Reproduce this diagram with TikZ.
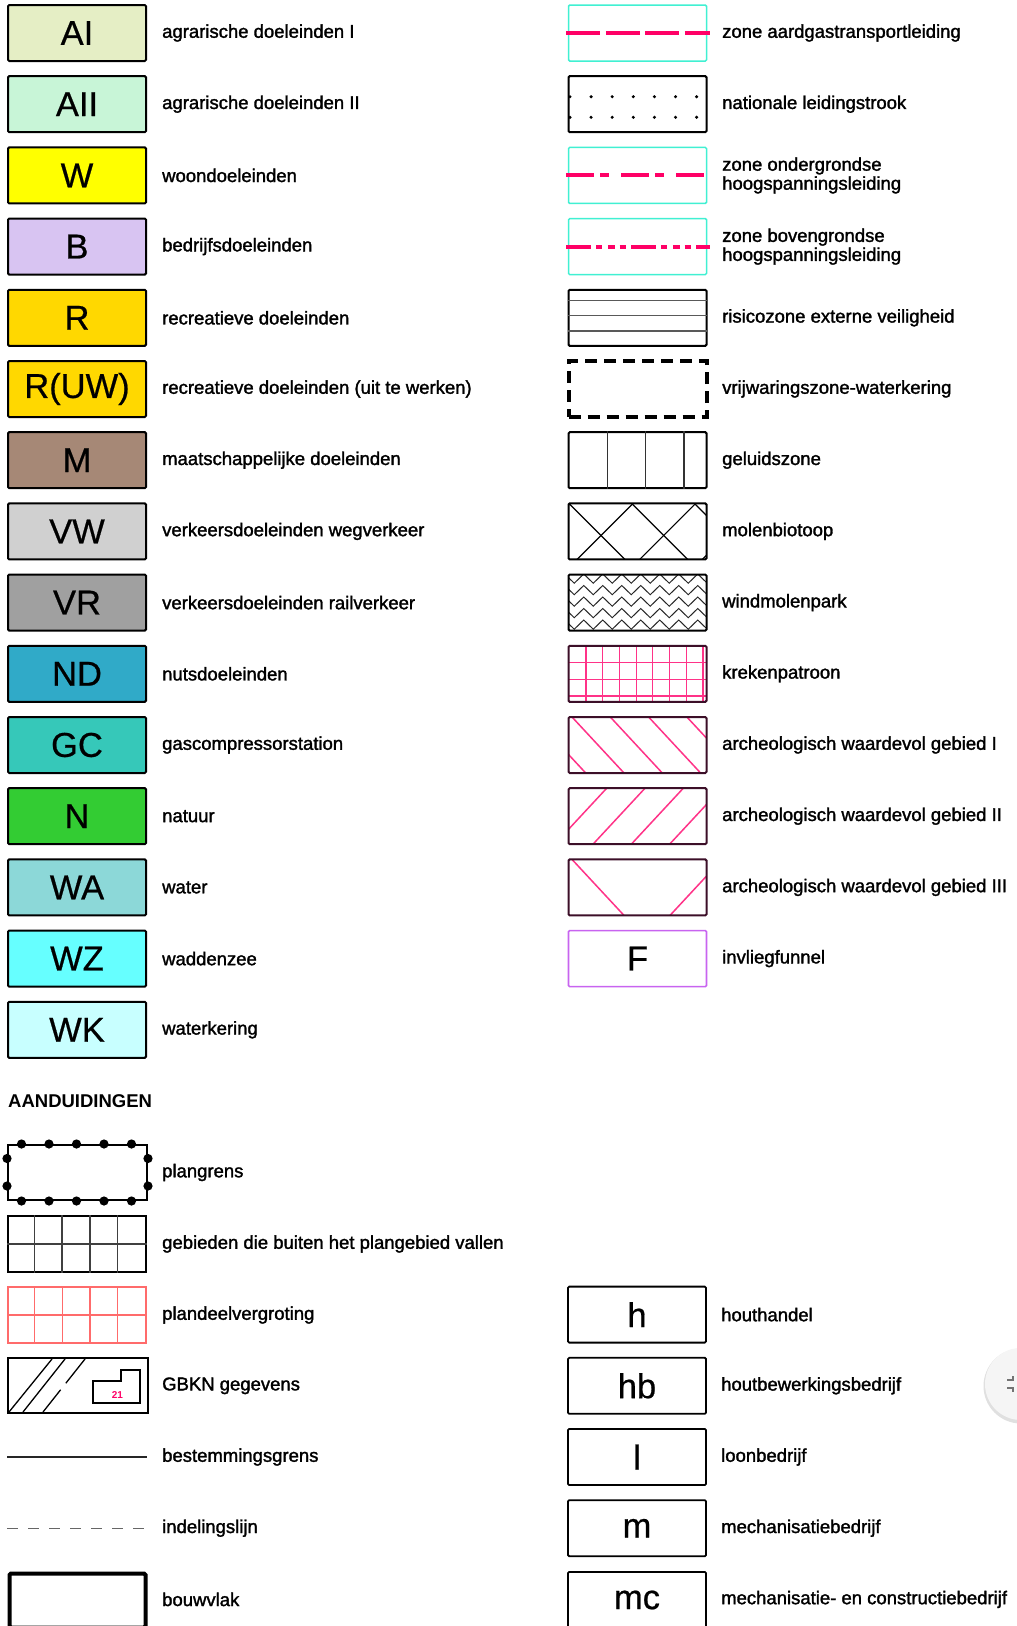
\documentclass[tikz,border=0pt]{standalone}
\usepackage{fontspec}
\setmainfont{Liberation Sans}
\newfontfamily\labfont{Liberation Sans}[FakeBold=1.6]
\newfontfamily\letfont{Liberation Sans}[FakeBold=0.6]
\usetikzlibrary{decorations.pathmorphing}
\definecolor{cAI}{HTML}{E5EEC5}
\definecolor{cAII}{HTML}{C8F5D7}
\definecolor{cW}{HTML}{FFFF00}
\definecolor{cB}{HTML}{D8C4F2}
\definecolor{cR}{HTML}{FFD800}
\definecolor{cM}{HTML}{A68876}
\definecolor{cVW}{HTML}{D0D0D0}
\definecolor{cVR}{HTML}{A0A0A0}
\definecolor{cND}{HTML}{30AAC8}
\definecolor{cGC}{HTML}{36C8B9}
\definecolor{cN}{HTML}{33CC33}
\definecolor{cWA}{HTML}{8CD8D8}
\definecolor{cWZ}{HTML}{66FFFF}
\definecolor{cWK}{HTML}{C8FFFF}
\definecolor{cyz}{HTML}{40F0D2}
\definecolor{pinkl}{HTML}{FF0066}
\definecolor{pinka}{HTML}{FF3388}
\definecolor{maroon}{HTML}{3C0F28}
\definecolor{purp}{HTML}{C864F0}
\definecolor{redg}{HTML}{FF6B6B}
\begin{document}
\begin{tikzpicture}[x=1pt,y=-1pt,
  zb/.style={draw=black, line width=2pt, minimum width=138pt, minimum height=56pt,
    inner sep=0pt, rounded corners=1.2pt, font=\letfont\fontsize{34.5}{34.5}\selectfont},
  lb/.style={anchor=west, inner sep=0pt, font=\labfont\fontsize{18.5}{19}\selectfont, align=left},
  pline/.style={line width=4pt, draw=pinkl},
  hatch/.style={line width=1.5pt, draw=pinka},
  thin/.style={line width=1.2pt, draw=black!80}]
\useasboundingbox (0,0) rectangle (1017,1626);
\fill[white] (0,0) rectangle (1017,1626);

% ---------------- left column: bestemmingen
\node[zb, fill=cAI]  (bAI)  at (77,33)     {AI};
\node[lb] (tAI)  at (162,33)    {agrarische doeleinden I};
\node[zb, fill=cAII] (bAII) at (77,104.2)  {AII};
\node[lb] (tAII) at (162,104.2) {agrarische doeleinden II};
\node[zb, fill=cW]   (bW)   at (77,175.4)  {W};
\node[lb] (tW)   at (162,175.4) {woondoeleinden};
\node[zb, fill=cB]   (bB)   at (77,246.6)  {B};
\node[lb] (tB)   at (162,246.6) {bedrijfsdoeleinden};
\node[zb, fill=cR]   (bR)   at (77,317.8)  {R};
\node[lb] (tR)   at (162,317.8) {recreatieve doeleinden};
\node[zb, fill=cR]   (bRUW) at (77,389)    {R(UW)};
\node[lb] (tRUW) at (162,389)   {recreatieve doeleinden (uit te werken)};
\node[zb, fill=cM]   (bM)   at (77,460.2)  {M};
\node[lb] (tM)   at (162,460.2) {maatschappelijke doeleinden};
\node[zb, fill=cVW]  (bVW)  at (77,531.4)  {VW};
\node[lb] (tVW)  at (162,531.4) {verkeersdoeleinden wegverkeer};
\node[zb, fill=cVR]  (bVR)  at (77,602.6)  {VR};
\node[lb] (tVR)  at (162,602.6) {verkeersdoeleinden railverkeer};
\node[zb, fill=cND]  (bND)  at (77,673.8)  {ND};
\node[lb] (tND)  at (162,673.8) {nutsdoeleinden};
\node[zb, fill=cGC]  (bGC)  at (77,745)    {GC};
\node[lb] (tGC)  at (162,745)   {gascompressorstation};
\node[zb, fill=cN]   (bN)   at (77,816.2)  {N};
\node[lb] (tN)   at (162,816.2) {natuur};
\node[zb, fill=cWA]  (bWA)  at (77,887.4)  {WA};
\node[lb] (tWA)  at (162,887.4) {water};
\node[zb, fill=cWZ]  (bWZ)  at (77,958.6)  {WZ};
\node[lb] (tWZ)  at (162,958.6) {waddenzee};
\node[zb, fill=cWK]  (bWK)  at (77,1029.8) {WK};
\node[lb] (tWK)  at (162,1029.8){waterkering};

% ---------------- right column: zones
% row 0
\node[zb, draw=cyz, line width=1.5pt] (bgas) at (637.5,33) {};
\draw[pline, dash pattern=on 34pt off 5.5pt] ([xshift=-1.5pt]bgas.west) -- ([xshift=2.5pt]bgas.east);
\node[lb] (tgas) at (722,33) {zone aardgastransportleiding};
% row 1
\node[zb] (bnat) at (637.5,104.2) {};
\foreach \k in {0,...,6}{
  \fill ([shift={(2.5+21.1*\k,-7.5)}]bnat.west) circle (1.7);
  \fill ([shift={(2.5+21.1*\k,13.1)}]bnat.west) circle (1.7);
}
\node[lb] (tnat) at (722,104.2) {nationale leidingstrook};
% row 2
\node[zb, draw=cyz, line width=1.5pt] (bond) at (637.5,175.4) {};
\draw[pline, dash pattern=on 28pt off 6pt on 9pt off 12pt] ([xshift=-1.5pt]bond.west) -- ([xshift=1pt]bond.east);
\node[lb] (tond) at (722,175.4) {zone ondergrondse\\hoogspanningsleiding};
% row 3
\node[zb, draw=cyz, line width=1.5pt] (bbov) at (637.5,246.6) {};
\draw[pline, dash pattern=on 25pt off 5pt on 6pt off 5.7pt on 6.7pt off 5pt on 6.7pt off 4.9pt] ([xshift=-1.5pt]bbov.west) -- ([xshift=2.5pt]bbov.east);
\node[lb] (tbov) at (722,246.6) {zone bovengrondse\\hoogspanningsleiding};
% row 4
\node[zb] (brisk) at (637.5,317.8) {};
\foreach \dy in {-13.1,2.2,17.2}
  \draw[thin, draw=black!65] ([yshift=\dy]brisk.west) -- ([yshift=\dy]brisk.east);
\node[lb] (trisk) at (722,317.8) {risicozone externe veiligheid};
% row 5
\node[zb, line width=4pt, rounded corners=0pt, dash pattern=on 12pt off 7pt] (bvrij) at (637.5,389) {};
\node[lb] (tvrij) at (722,389) {vrijwaringszone-waterkering};
% row 6
\node[zb] (bgel) at (637.5,460.2) {};
\foreach \dx in {39.8,78.2,116.5}
  \draw[thin] ([xshift=\dx]bgel.north west) -- ([xshift=\dx]bgel.south west);
\node[lb] (tgel) at (722,460.2) {geluidszone};
% row 7
\begin{scope}
  \clip (568.5,503.4) rectangle (706.5,559.4);
  \foreach \x in {506.3,569,631.7,694.4} \draw[thin, draw=black] (\x,503.4) -- ++(56,56);
  \foreach \x in {514.3,577,639.7,702.4} \draw[thin, draw=black] (\x,559.4) -- ++(56,-56);
\end{scope}
\node[zb] (bmol) at (637.5,531.4) {};
\node[lb] (tmol) at (722,531.4) {molenbiotoop};
% row 8
\begin{scope}
  \clip (568.5,574.6) rectangle (706.5,630.6);
  \foreach \y in {578.6,590.1,601.6,613.1,624.6}
    \draw[line width=1pt, draw=black!85, decorate, decoration={zigzag, segment length=19pt, amplitude=4.6pt}] (560,\y) -- (720,\y);
\end{scope}
\node[zb] (bwind) at (637.5,602.6) {};
\node[lb] (twind) at (722,602.6) {windmolenpark};
% row 9
\begin{scope}
  \clip (568.5,645.8) rectangle (706.5,701.8);
  \foreach \k in {0,...,7} \draw[hatch, line width=1.2pt] (586+16.7*\k,645) -- (586+16.7*\k,703);
  \foreach \y in {662.6,679.3,696} \draw[hatch, line width=1.2pt] (567,\y) -- (708,\y);
\end{scope}
\node[zb, draw=maroon] (bkrek) at (637.5,673.8) {};
\node[lb] (tkrek) at (722,673.8) {krekenpatroon};
% row 10
\begin{scope}
  \clip (568.5,717) rectangle (706.5,773);
  \foreach \k in {-2,...,4} \draw[hatch] (572+38.3*\k,717) -- ++(52,56);
\end{scope}
\node[zb, draw=maroon] (barI) at (637.5,745) {};
\node[lb] (tarI) at (722,745) {archeologisch waardevol gebied I};
% row 11
\begin{scope}
  \clip (568.5,788.2) rectangle (706.5,844.2);
  \foreach \k in {-2,...,3} \draw[hatch] (593+38.3*\k,844.2) -- ++(52,-56);
\end{scope}
\node[zb, draw=maroon] (barII) at (637.5,816.2) {};
\node[lb] (tarII) at (722,816.2) {archeologisch waardevol gebied II};
% row 12
\begin{scope}
  \clip (568.5,859.4) rectangle (706.5,915.4);
  \draw[hatch] (572,859.4) -- ++(52,56);
  \draw[hatch] (670,915.4) -- ++(52,-56);
\end{scope}
\node[zb, draw=maroon] (barIII) at (637.5,887.4) {};
\node[lb] (tarIII) at (722,887.4) {archeologisch waardevol gebied III};
% row 13
\node[zb, draw=purp, line width=1.6pt] (bF) at (637.5,958.6) {F};
\node[lb] (tF) at (722,958.6) {invliegfunnel};

% ---------------- aanduidingen
\node[anchor=west, inner sep=0pt, font=\bfseries\fontsize{18.5}{19}\selectfont] (head) at (8,1101.5) {AANDUIDINGEN};
% plangrens
\node[draw, line width=2pt, minimum width=139pt, minimum height=55pt, inner sep=0pt] (bplan) at (77.5,1172.5) {};
\foreach \x in {14.5,42,69.5,97,124.5}{
  \fill ([xshift=\x]bplan.north west) circle (4.6);
  \fill ([xshift=\x]bplan.south west) circle (4.6);
}
\foreach \dy in {-13.5,14}{
  \fill ([yshift=\dy]bplan.west) circle (4.6);
  \fill ([yshift=\dy]bplan.east) circle (4.6);
}
\node[lb] (tplan) at (162,1172.5) {plangrens};
% gebieden
\node[zb, rounded corners=0pt] (bgeb) at (77,1244) {};
\foreach \dx in {27.6,55.2,82.8,110.4}
  \draw[line width=1.6pt, draw=black!75] ([xshift=\dx]bgeb.north west) -- ([xshift=\dx]bgeb.south west);
\draw[line width=1.6pt, draw=black!75] (bgeb.west) -- (bgeb.east);
\node[lb] (tgeb) at (162,1244) {gebieden die buiten het plangebied vallen};
% plandeelvergroting
\node[zb, draw=redg, line width=1.6pt, rounded corners=0pt] (bpdv) at (77,1315) {};
\foreach \dx in {27.6,55.2,82.8,110.4}
  \draw[line width=1.3pt, draw=redg] ([xshift=\dx]bpdv.north west) -- ([xshift=\dx]bpdv.south west);
\draw[line width=1.3pt, draw=redg] (bpdv.west) -- (bpdv.east);
\node[lb] (tpdv) at (162,1315) {plandeelvergroting};
% GBKN
\node[draw, line width=1.5pt, minimum width=140pt, minimum height=55pt, inner sep=0pt] (bgbkn) at (78,1385.5) {};
\draw[line width=1.3pt] (9,1412) -- (52,1359);
\draw[line width=1.3pt] (23,1412) -- (65,1359);
\draw[line width=1.3pt, dash pattern=on 28.4pt off 8.3pt on 40pt] (43,1412) -- (85,1359);
\draw[line width=1.3pt] (93,1381) -- (121,1381) -- (121,1370) -- (140,1370) -- (140,1403) -- (93,1403) -- cycle;
\node[inner sep=0pt, text=pinkl, font=\bfseries\fontsize{10}{10}\selectfont] (n21) at (117.5,1394.5) {21};
\node[lb] (tgbkn) at (162,1385.8) {GBKN gegevens};
% bestemmingsgrens
\coordinate (bg1) at (7,1457);
\coordinate (bg2) at (147,1457);
\draw[line width=2.2pt, draw=black!85] (bg1) -- (bg2);
\node[lb] (tbg) at (162,1457) {bestemmingsgrens};
% indelingslijn
\coordinate (il1) at (7,1528.5);
\coordinate (il2) at (147,1528.5);
\draw[line width=1.5pt, draw=black!60, dash pattern=on 11pt off 10pt] (il1) -- (il2);
\node[lb] (til) at (162,1528.2) {indelingslijn};
% bouwvlak
\node[draw, line width=4pt, minimum width=136pt, minimum height=54pt, inner sep=0pt, rounded corners=1.5pt] (bbv) at (77.5,1600.5) {};
\node[lb] (tbv) at (162,1599.4) {bouwvlak};

% ---------------- right lower: letters
\node[zb, line width=1.8pt] (bh)  at (637,1314.6) {h};
\node[lb] (th)  at (721,1314.6) {houthandel};
\node[zb, line width=1.8pt] (bhb) at (637,1385.8) {hb};
\node[lb] (thb) at (721,1385.8) {houtbewerkingsbedrijf};
\node[zb, line width=1.8pt] (bl)  at (637,1457) {l};
\node[lb] (tl)  at (721,1457) {loonbedrijf};
\node[zb, line width=1.8pt] (bm)  at (637,1528.2) {m};
\node[lb] (tm)  at (721,1528.2) {mechanisatiebedrijf};
\node[zb, line width=1.8pt] (bmc) at (637,1600) {mc};
\node[lb] (tmc) at (721,1599.4) {mechanisatie- en constructiebedrijf};

% ---------------- floating button at the right edge
\fill[black!12] (1021,1386) circle (37.5);
\fill[black!4] (1021,1384) circle (36);
\draw[line width=1.6pt, draw=black!55] (1007,1380) -- (1013,1380) -- (1013,1376);
\draw[line width=1.6pt, draw=black!55] (1007,1388) -- (1013,1388) -- (1013,1392);
\end{tikzpicture}
\end{document}
